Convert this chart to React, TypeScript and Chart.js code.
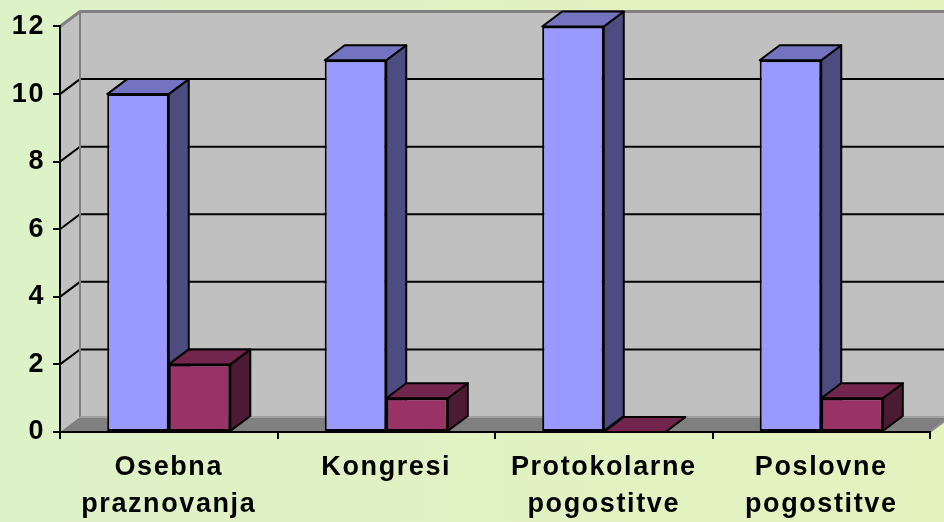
import React, { useEffect, useRef } from 'react';
import { Chart, registerables } from 'chart.js';

Chart.register(...registerables);

const categories: string[][] = [
  ['Osebna', 'praznovanja'],
  ['Kongresi'],
  ['Protokolarne', 'pogostitve'],
  ['Poslovne', 'pogostitve'],
];
const seriesBlue = [10, 11, 12, 11];
const seriesRed = [2, 1, 0, 1];
const yMin = 0;
const yMax = 12;
const yStep = 2;

const frontColors = ['#9999FF', '#993366'];
const topColors = ['#7373BF', '#73264D'];
const sideColors = ['#4C4C80', '#4D1A33'];

const DX = 20;
const DY = -15;
const FONT = '"Liberation Sans", Arial, sans-serif';

const depthPlugin = {
  id: 'depth3d',
  beforeDraw(chart: any) {
    const ctx = chart.ctx as CanvasRenderingContext2D;
    (ctx as any).letterSpacing = '1.6px';
    const { left: L, right: R, bottom: B } = chart.chartArea;
    const ys = chart.scales.y;
    const yTop = ys.getPixelForValue(yMax);
    ctx.save();
    ctx.fillStyle = '#C0C0C0';
    ctx.beginPath();
    ctx.moveTo(L, yTop);
    ctx.lineTo(L + DX, yTop + DY);
    ctx.lineTo(L + DX, B + DY);
    ctx.lineTo(L, B);
    ctx.closePath();
    ctx.fill();
    ctx.fillRect(L + DX, yTop + DY, R - L + 40, B - yTop);
    ctx.fillStyle = '#808080';
    ctx.beginPath();
    ctx.moveTo(L, B);
    ctx.lineTo(L + DX, B + DY);
    ctx.lineTo(R + DX, B + DY);
    ctx.lineTo(R, B);
    ctx.closePath();
    ctx.fill();
    ctx.strokeStyle = '#000';
    ctx.lineWidth = 2;
    for (let v = yMin + yStep; v < yMax; v += yStep) {
      const y = ys.getPixelForValue(v);
      ctx.beginPath();
      ctx.moveTo(L, y);
      ctx.lineTo(L + DX, y + DY);
      ctx.lineTo(R + DX + 40, y + DY);
      ctx.stroke();
    }
    ctx.strokeStyle = '#808080';
    ctx.lineWidth = 3;
    ctx.beginPath();
    ctx.moveTo(L, yTop);
    ctx.lineTo(L + DX, yTop + DY);
    ctx.lineTo(R + DX + 40, yTop + DY);
    ctx.stroke();
    ctx.lineWidth = 2;
    ctx.beginPath();
    ctx.moveTo(L + DX, yTop + DY);
    ctx.lineTo(L + DX, B + DY);
    ctx.stroke();
    ctx.strokeStyle = '#A0A0A0';
    ctx.beginPath();
    ctx.moveTo(L + DX, B + DY);
    ctx.lineTo(R + DX + 40, B + DY);
    ctx.stroke();
    ctx.strokeStyle = '#909090';
    ctx.beginPath();
    ctx.moveTo(R, B);
    ctx.lineTo(R + DX, B + DY);
    ctx.stroke();
    ctx.restore();
  },
  beforeDatasetsDraw(chart: any) {
    const ctx = chart.ctx as CanvasRenderingContext2D;
    ctx.save();
    ctx.lineWidth = 2;
    ctx.lineJoin = 'round';
    ctx.strokeStyle = '#000';
    const n = categories.length;
    for (let i = 0; i < n; i++) {
      for (let d = 0; d < chart.data.datasets.length; d++) {
        const el = chart.getDatasetMeta(d).data[i];
        if (!el) continue;
        const { x, y, base, width } = el.getProps(['x', 'y', 'base', 'width'], true);
        const l = x - width / 2;
        const r = x + width / 2;
        const t = Math.min(y, base);
        const b = Math.max(y, base);
        ctx.fillStyle = sideColors[d];
        ctx.beginPath();
        ctx.moveTo(r, t);
        ctx.lineTo(r + DX, t + DY);
        ctx.lineTo(r + DX, b + DY);
        ctx.lineTo(r, b);
        ctx.closePath();
        ctx.fill();
        ctx.stroke();
        ctx.fillStyle = topColors[d];
        ctx.beginPath();
        ctx.moveTo(l, t);
        ctx.lineTo(l + DX, t + DY);
        ctx.lineTo(r + DX, t + DY);
        ctx.lineTo(r, t);
        ctx.closePath();
        ctx.fill();
        ctx.stroke();
      }
    }
    ctx.restore();
  },
};

export default function App() {
  const ref = useRef<HTMLCanvasElement | null>(null);
  useEffect(() => {
    if (!ref.current) return;
    const tickFont = { family: FONT, size: 27, weight: 'bold' as const, lineHeight: 1.37 };
    const chart = new Chart(ref.current, {
      type: 'bar',
      data: {
        labels: categories,
        datasets: [
          {
            data: seriesBlue,
            backgroundColor: frontColors[0],
            borderColor: '#000',
            borderWidth: 2,
            borderSkipped: false,
            categoryPercentage: 0.566,
            barPercentage: 1,
          },
          {
            data: seriesRed,
            backgroundColor: frontColors[1],
            borderColor: '#000',
            borderWidth: 2,
            borderSkipped: false,
            categoryPercentage: 0.566,
            barPercentage: 1,
          },
        ],
      },
      options: {
        animation: false,
        responsive: true,
        maintainAspectRatio: false,
        layout: { padding: { top: 23, right: 14, left: 0, bottom: 0 } },
        plugins: { legend: { display: false }, tooltip: { enabled: false } },
        scales: {
          x: {
            type: 'category',
            grid: { display: true, drawOnChartArea: false, drawTicks: true, tickLength: 7, color: '#000', lineWidth: 2, offset: true },
            border: { display: true, color: '#000', width: 2 },
            ticks: { color: '#000', font: tickFont, padding: 10, maxRotation: 0, autoSkip: false },
            afterFit: (s: any) => { s.height = 90; },
          },
          y: {
            min: yMin,
            max: yMax,
            grid: { display: true, drawOnChartArea: false, drawTicks: true, tickLength: 7, color: '#000', lineWidth: 2 },
            border: { display: true, color: '#000', width: 2 },
            ticks: { stepSize: yStep, color: '#000', font: tickFont, padding: 8 },
            afterFit: (s: any) => { s.width = 60; },
          },
        },
      },
      plugins: [depthPlugin],
    });
    return () => chart.destroy();
  }, []);
  return (
    <div style={{ position: 'fixed', left: 0, top: 0, width: 944, height: 522, background: 'linear-gradient(to right, #DEF2C8, #E4F2BE)' }}>
      <canvas ref={ref} />
    </div>
  );
}
